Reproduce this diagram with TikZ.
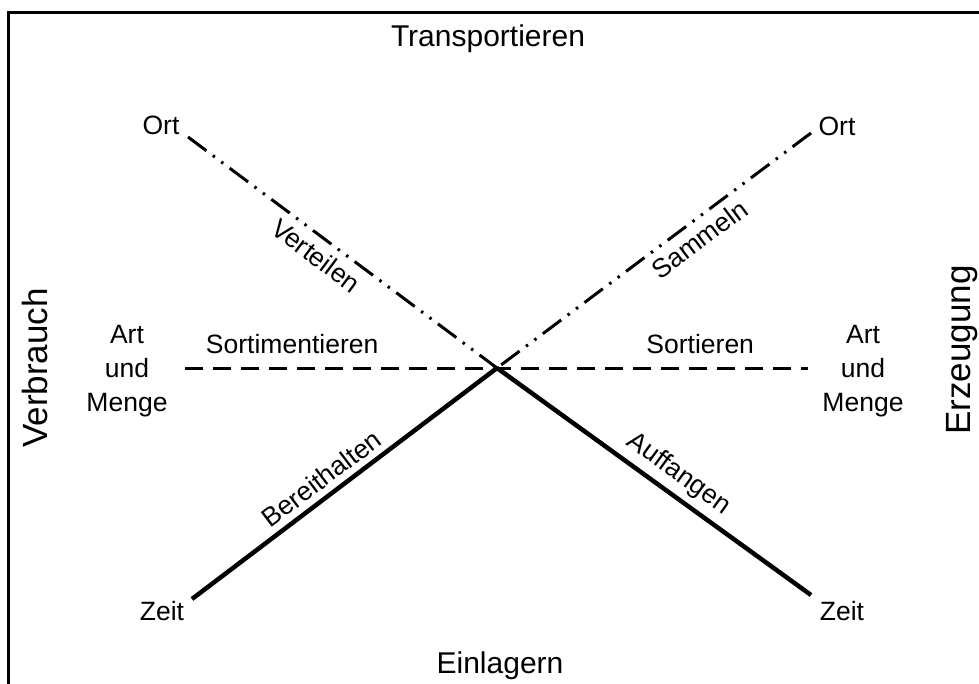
\documentclass[tikz,border=0pt]{standalone}
\usepackage{fontspec}
\setmainfont{Liberation Sans}
\usetikzlibrary{positioning}
\begin{document}
\begin{tikzpicture}[
 x=1pt,y=-1pt,
 lbl/.style={font=\fontsize{26.5}{34}\selectfont,inner sep=3pt,align=center},
 title/.style={font=\fontsize{30}{36}\selectfont,inner sep=3pt},
 side/.style={font=\fontsize{35}{42}\selectfont,inner sep=3pt,rotate=90},
 frame/.style={line width=3pt},
 route/.style={line width=3pt,dash pattern=on 23pt off 8pt on 2.5pt off 8pt on 2.5pt off 8pt},
 sort/.style={line width=3pt,dash pattern=on 18pt off 10pt},
 store/.style={line width=4.5pt}
]
\useasboundingbox (0,0) rectangle (979,684);
\draw[frame] (8,700) |- (1000,13);
\coordinate (c) at (497,368);
\coordinate (o1) at (188,137);
\coordinate (o2) at (811,133);
\coordinate (z1) at (192,599);
\coordinate (z2) at (811,595);
\coordinate (s1) at (185,368);
\coordinate (s2) at (808,368);
% outer labels
\node[title,anchor=base] (trans) at (488,47) {Transportieren};
\node[title,anchor=base] (einl) at (500,673) {Einlagern};
\node[side] (verb) at (35,368) {Verbrauch};
\node[side] (erz) at (962,350) {Erzeugung};
% line ends
\node[lbl,anchor=base] (ortl) at (161,135) {Ort};
\node[lbl,anchor=base] (ortr) at (837,136) {Ort};
\node[lbl,anchor=base] (zeitl) at (162,620) {Zeit};
\node[lbl,anchor=base] (zeitr) at (842,620) {Zeit};
\node[lbl] (artl) at (127,371) {Art\\und\\Menge};
\node[lbl] (artr) at (863,371) {Art\\und\\Menge};
% the three axes
\draw[route] (o1) -- node[lbl,pos=.45,sloped,below=4pt] (vert) {Verteilen} (c);
\draw[route] (o2) -- node[lbl,pos=.39,sloped,below=4pt] (samm) {Sammeln} (c);
\draw[sort] (s1) -- node[lbl,pos=.172,above=10pt] (sortim) {Sortimentieren}
  node[lbl,pos=.827,above=10pt] (sortie) {Sortieren} (s2);
\draw[store] (z1) -- node[lbl,pos=.46,sloped,above=3pt] (bereit) {Bereithalten} (c);
\draw[store] (c) -- node[lbl,pos=.54,sloped,above=3pt] (auff) {Auffangen} (z2);
\end{tikzpicture}
\end{document}
